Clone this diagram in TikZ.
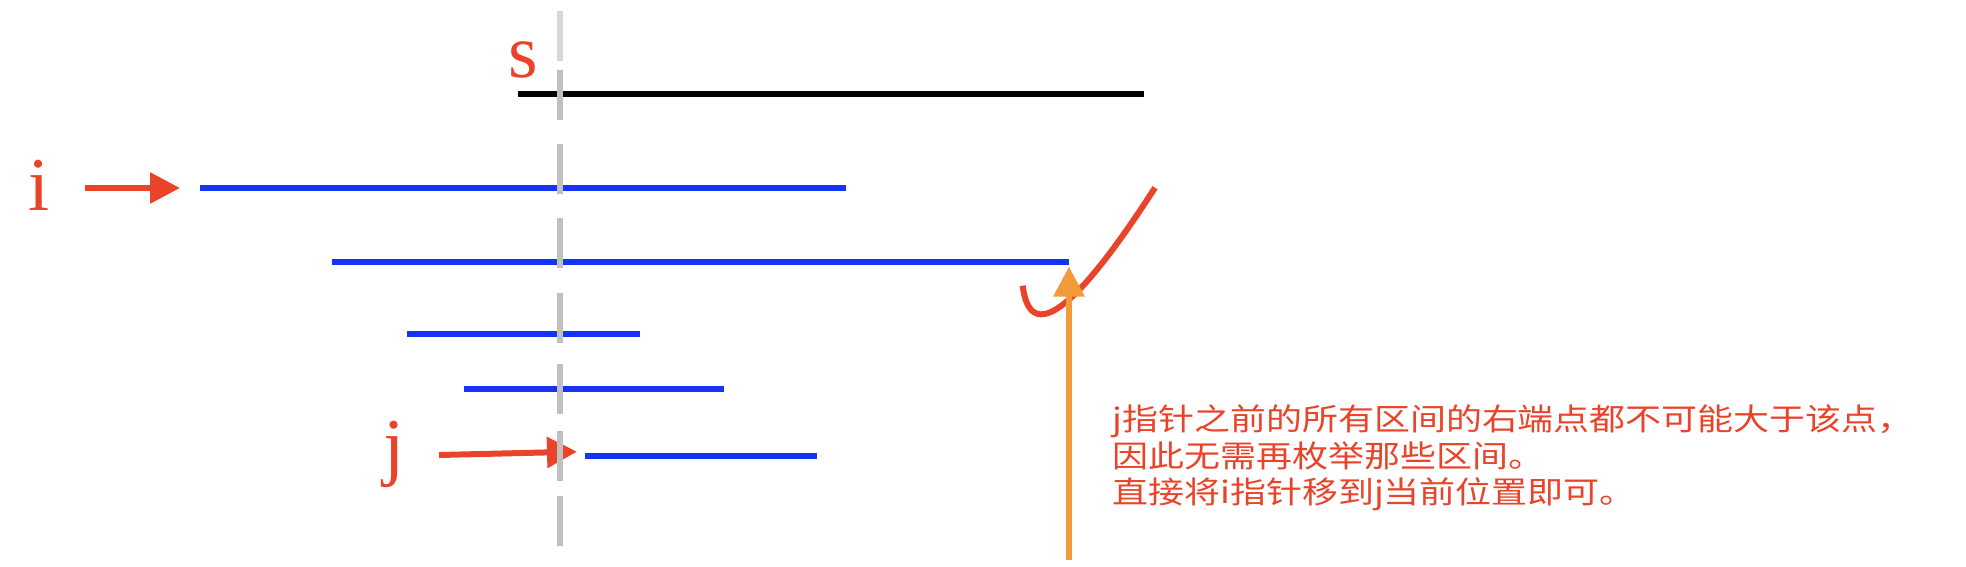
\documentclass[tikz,border=0pt]{standalone}
\usepackage{fontspec}
\setmainfont{Liberation Serif}
\newfontfamily\cjk{Noto Sans CJK SC}
\usetikzlibrary{arrows.meta}
\definecolor{cred}{HTML}{E9442A}
\definecolor{cblue}{HTML}{1433F4}
\definecolor{corange}{HTML}{F19B3A}
\definecolor{cgray}{HTML}{C0C0C0}
\definecolor{clight}{HTML}{D8D8D8}
\tikzset{
  gdash/.style={draw=cgray, line width=6pt},
  bluebar/.style={draw=cblue, line width=6pt},
  blackbar/.style={draw=black, line width=5.5pt},
  redarr/.style={draw=cred, line width=6pt, -{Triangle[length=30pt,width=30pt]}},
  orangearr/.style={draw=corange, line width=6pt, -{Triangle[length=30pt,width=30pt]}},
  redcurve/.style={draw=cred, line width=6pt},
  lbl/.style={text=cred, font=\fontsize{76}{80}\selectfont, inner sep=0pt, anchor=base},
  note/.style={text=cred, font=\cjk\fontsize{30.5}{36}\selectfont, inner sep=0pt, anchor=base west}
}
\begin{document}
\begin{tikzpicture}[x=1pt,y=-1pt]
\useasboundingbox (0,0) rectangle (1966,566);
% interval S
\coordinate (s1) at (518,94); \coordinate (s2) at (1144,94);
\draw[blackbar] (s1) -- (s2);
% blue intervals
\coordinate (b1a) at (200,188); \coordinate (b1b) at (846,188);
\coordinate (b2a) at (332,262); \coordinate (b2b) at (1069,262);
\coordinate (b3a) at (407,334); \coordinate (b3b) at (640,334);
\coordinate (b4a) at (464,389); \coordinate (b4b) at (724,389);
\coordinate (b5a) at (585,456); \coordinate (b5b) at (817,456);
\draw[bluebar] (b1a) -- (b1b);
\draw[bluebar] (b2a) -- (b2b);
\draw[bluebar] (b3a) -- (b3b);
\draw[bluebar] (b4a) -- (b4b);
\draw[bluebar] (b5a) -- (b5b);
% red check curve
\coordinate (c0) at (1022.7,285.7);
\coordinate (c3) at (1155,187.7);
\draw[redcurve] (c0) .. controls (1030,345) and (1075,312) .. (c3);
% orange arrow
\coordinate (oa) at (1069,560); \coordinate (ob) at (1069,266.5);
\draw[orangearr] (oa) -- (ob);
% red pointer arrows
\coordinate (ia) at (85,188); \coordinate (ib) at (180,188);
\draw[redarr] (ia) -- (ib);
\coordinate (ja) at (439,455); \coordinate (jb) at (577,451.7);
\draw[redarr] (ja) -- (jb);
% gray dashed line
\coordinate (d0a) at (560,11); \coordinate (d0b) at (560,61);
\draw[gdash, draw=clight] (d0a) -- (d0b);
\foreach \ya/\yb in {70/120,144/194,218/268,293/343,364/414,431/481,496/546}
  \draw[gdash] (560,\ya) -- (560,\yb);
% labels
\node[lbl] (ls) at (523.5,77) {s};
\node[lbl] (li) at (39.5,210) {i};
\node[lbl] (lj) at (394,471) {j};
% note
\node[note] (t1) at (1112,430) {\scalebox{1.18}[1]{j指针之前的所有区间的右端点都不可能大于该点，}};
\node[note] (t2) at (1112,467) {\scalebox{1.18}[1]{因此无需再枚举那些区间。}};
\node[note] (t3) at (1112,503) {\scalebox{1.18}[1]{直接将i指针移到j当前位置即可。}};
\end{tikzpicture}
\end{document}
